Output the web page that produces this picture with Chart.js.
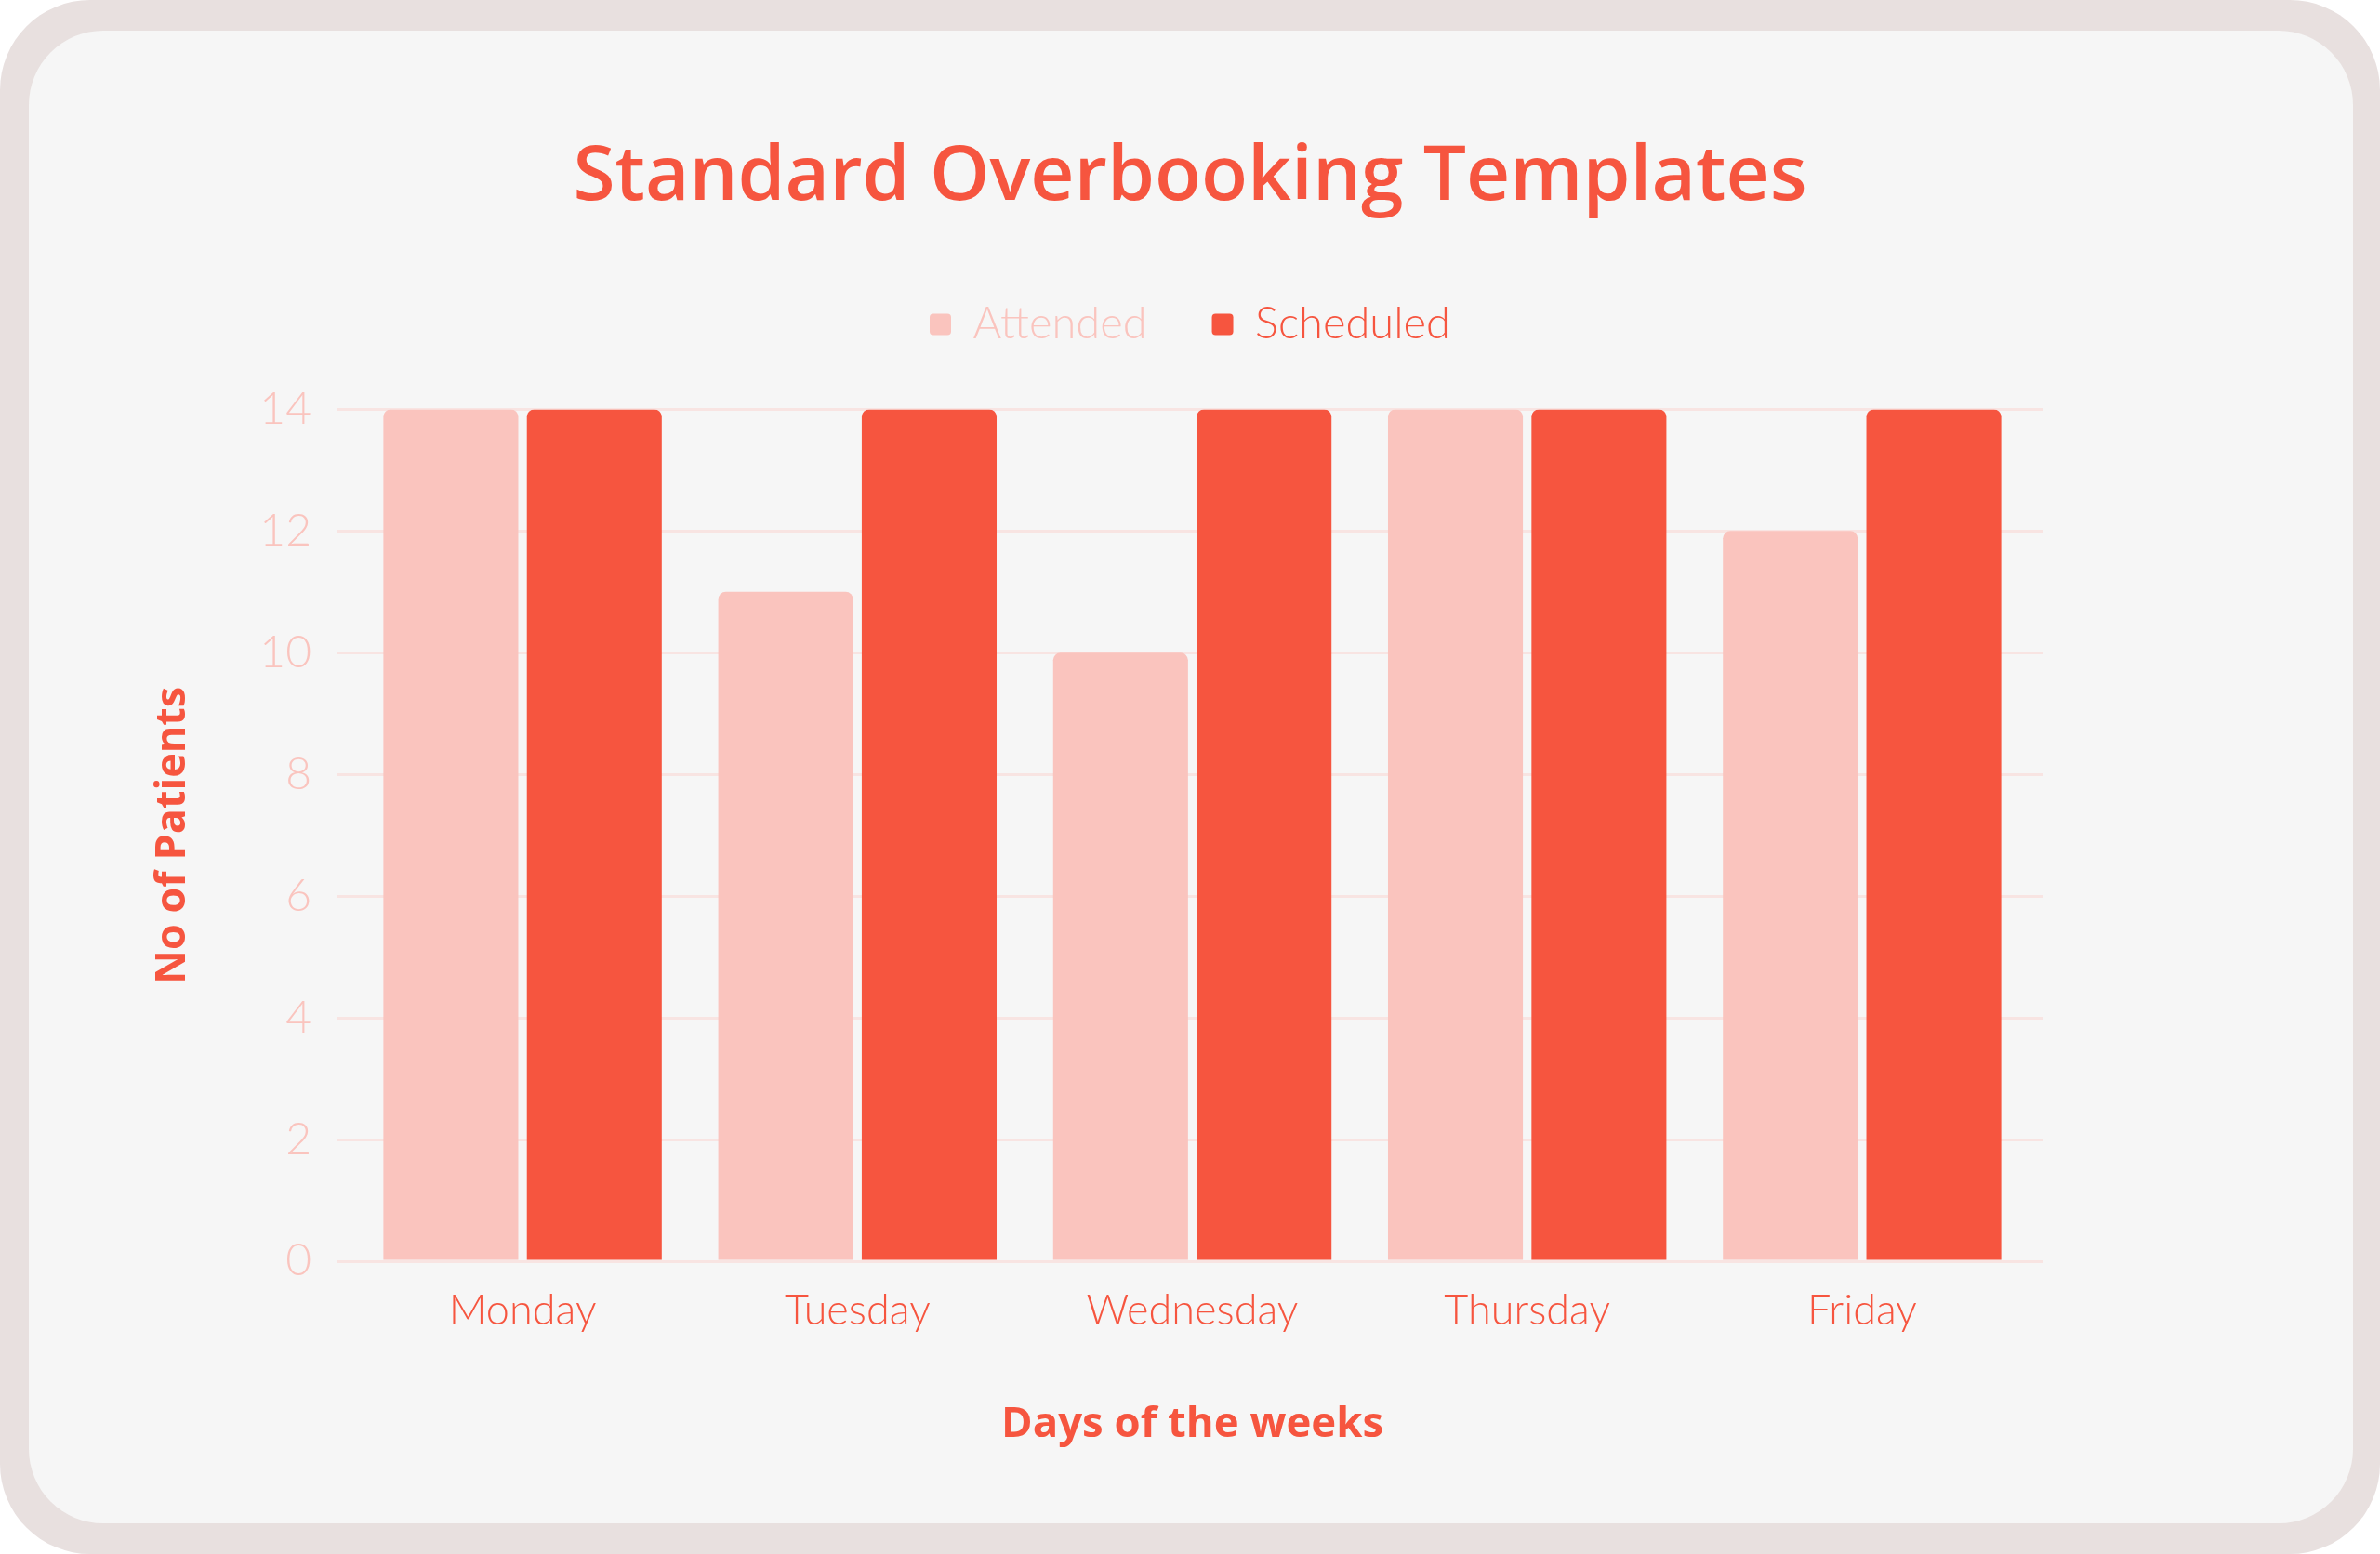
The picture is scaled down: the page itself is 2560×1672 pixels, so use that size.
<!DOCTYPE html>
<html>
<head>
<meta charset="utf-8">
<title>Standard Overbooking Templates</title>
<script src="https://cdn.jsdelivr.net/npm/chart.js@4.4.1/dist/chart.umd.min.js"></script>
<style>
  html, body { margin: 0; padding: 0; background: #ffffff; }
  #frame {
    position: relative;
    width: 2560px;
    height: 1672px;
    background: #e8e0df;
    border-radius: 97px;
    overflow: hidden;
  }
  #card {
    position: absolute;
    left: 31px;
    top: 33px;
    width: 2500px;
    height: 1606px;
    background: #f6f6f6;
    border-radius: 80px;
  }
  #chartWrap { position: absolute; left: 0; top: 0; width: 2560px; height: 1672px; }
</style>
</head>
<body>
<div id="frame">
  <div id="card"></div>
  <div id="chartWrap"><canvas id="overbookingChart"></canvas></div>
</div>

<script>
const days = ['Monday', 'Tuesday', 'Wednesday', 'Thursday', 'Friday'];
const attended = [14, 11, 10, 14, 12];
const scheduled = [14, 14, 14, 14, 14];
const yTicks = [0, 2, 4, 6, 8, 10, 12, 14];

const RED = '#f6553f';
const PINK = '#fac4be';
const GRID = '#f8e4e2';
const boldFont = "'Open Sans', sans-serif";
const thinFont = "Lato, sans-serif";

// extra room below the legend before the plot starts
const legendGap = {
  id: 'legendGap',
  beforeInit(chart) {
    const fit = chart.legend.fit;
    chart.legend.fit = function () {
      fit.call(this);
      this.height += 58;
    };
  }
};

const barStyle = {
  borderRadius: 8,
  borderSkipped: 'start',
  categoryPercentage: 0.857,
  barPercentage: 0.94
};

new Chart(document.getElementById('overbookingChart'), {
  type: 'bar',
  data: {
    labels: days,
    datasets: [
      { label: 'Attended', data: attended, backgroundColor: PINK, ...barStyle },
      { label: 'Scheduled', data: scheduled, backgroundColor: RED, ...barStyle }
    ]
  },
  plugins: [legendGap],
  options: {
    responsive: true,
    maintainAspectRatio: false,
    animation: false,
    layout: { padding: 0 },
    plugins: {
      title: {
        display: true,
        text: 'Standard Overbooking Templates',
        color: RED,
        font: { family: boldFont, size: 82, weight: '600' },
        padding: { top: 142, bottom: 15 }
      },
      legend: {
        position: 'top',
        labels: {
          boxWidth: 23,
          boxHeight: 23,
          useBorderRadius: true,
          borderRadius: 4,
          padding: 70,
          font: { family: thinFont, size: 47, weight: '300' },
          generateLabels: chart => chart.data.datasets.map((ds, i) => ({
            text: ds.label,
            fillStyle: ds.backgroundColor,
            strokeStyle: ds.backgroundColor,
            lineWidth: 0,
            fontColor: i === 0 ? PINK : RED,
            borderRadius: 4,
            datasetIndex: i,
            hidden: false
          }))
        }
      },
      tooltip: { enabled: false }
    },
    scales: {
      x: {
        grid: { display: false, drawTicks: false },
        border: { display: false },
        ticks: {
          color: RED,
          padding: 26,
          font: { family: thinFont, size: 45, weight: '300' }
        },
        title: {
          display: true,
          text: 'Days of the weeks',
          color: RED,
          font: { family: boldFont, size: 45.5, weight: '700' },
          padding: { top: 0, bottom: 112 }
        },
        afterFit: scale => { scale.height = 315; }
      },
      y: {
        min: 0,
        max: 14,
        afterBuildTicks: scale => { scale.ticks = yTicks.map(v => ({ value: v })); },
        grid: { color: GRID, lineWidth: 3, drawTicks: true, tickLength: 19 },
        border: { display: false },
        ticks: {
          color: PINK,
          padding: 28,
          font: { family: thinFont, size: 48, weight: '300' }
        },
        title: {
          display: true,
          text: 'No of Patients',
          color: RED,
          font: { family: boldFont, size: 45, weight: '700' },
          padding: { top: 159, bottom: 0 }
        },
        afterFit: scale => { scale.width = 382; }
      },
      yRight: {
        position: 'right',
        min: 0,
        max: 14,
        afterBuildTicks: scale => { scale.ticks = yTicks.map(v => ({ value: v })); },
        grid: { color: GRID, lineWidth: 3, drawOnChartArea: false, drawTicks: true, tickLength: 15 },
        border: { display: false },
        ticks: { display: false },
        afterFit: scale => { scale.width = 377; }
      }
    }
  }
});
</script>
</body>
</html>
